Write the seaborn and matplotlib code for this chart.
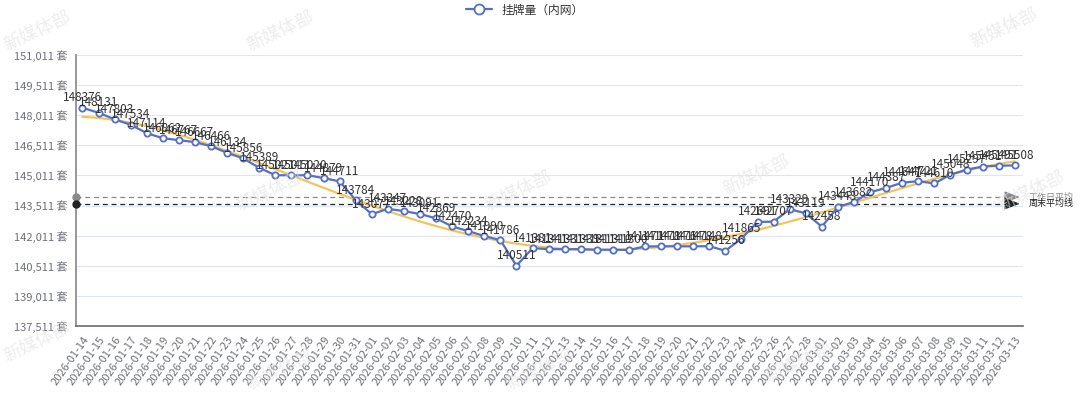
import matplotlib
matplotlib.use("Agg")
import matplotlib.pyplot as plt
import matplotlib.transforms as mtransforms
import numpy as np
import pandas as pd
import seaborn as sns

# dates (categories)
dates = pd.date_range("2026-01-14", "2026-03-13").strftime("%Y-%m-%d").tolist()

# listings count
listings = [
    148376, 148131, 147803, 147534, 147114, 146862, 146767, 146667, 146466, 146134,
    145856, 145389, 145021, 145011, 145020, 144879, 144711, 143784, 143077, 143347,
    143228, 143091, 142869, 142470, 142234, 141990, 141786, 140511, 141381, 141341,
    141331, 141339, 141311, 141310, 141300, 141471, 141478, 141476, 141478, 141482,
    141256, 141865, 142691, 142707, 143329, 143119, 142458, 143443, 143682, 144170,
    144387, 144647, 144721, 144610, 145048, 145297, 145451, 145491, 145508,
]

weekday_avg = 143930
weekend_avg = 143600
y_ticks = [137511, 139011, 140511, 142011, 143511, 145011, 146511, 148011, 149511, 151011]

df = pd.DataFrame({"date": dates, "listings": listings})
df["idx"] = np.arange(len(df))

sns.set_theme(style="white")
plt.rcParams["font.family"] = ["Noto Sans CJK SC", "DejaVu Sans"]
plt.rcParams["axes.unicode_minus"] = False

blue = "#5470c6"
yellow = "#f2c45f"

fig = plt.figure(figsize=(10.8, 3.98), dpi=100)
ax = fig.add_axes([0.0704, 0.181, 0.8766, 0.681])

# trend line
sns.regplot(data=df, x="idx", y="listings", order=4, scatter=False, ci=None,
            truncate=True, line_kws=dict(color=yellow, lw=1.6, zorder=2), ax=ax)

sns.lineplot(data=df, x="idx", y="listings", color=blue, lw=1.6, marker="o",
             markersize=4.5, markerfacecolor="white", markeredgecolor=blue,
             markeredgewidth=1.3, ax=ax, zorder=3, label="挂牌量（内网）", legend=False)

for i, v in enumerate(listings):
    ax.annotate(str(v), (i, v), xytext=(0, 2.5), textcoords="offset points",
                ha="center", va="bottom", fontsize=8.5, color="#333333", zorder=4)

# average lines
trans = mtransforms.blended_transform_factory(ax.transAxes, ax.transData)
for val, col, name in [(weekday_avg, "#8a8a8a", "工作日平均"), (weekend_avg, "#222222", "周末平均线")]:
    ax.plot([0, 0.992], [val, val], transform=trans, ls=(0, (4, 3)), lw=0.9,
            color=col, clip_on=False, zorder=1)
    ax.annotate("", xy=(1.0, val), xytext=(0.985, val), xycoords=trans, textcoords=trans,
                arrowprops=dict(arrowstyle="-|>,head_length=0.8,head_width=0.3",
                                color=col, lw=0.8), annotation_clip=False)
    ax.plot([0], [val], transform=trans, marker="o", markersize=5, color=col,
            clip_on=False, zorder=5)
    ax.text(1.006, val, name, transform=trans, fontsize=6.5, color=col, va="center", ha="left")

ax.set_xlim(-0.4, len(dates) - 0.5)
ax.set_ylim(y_ticks[0], y_ticks[-1])
ax.set_yticks(y_ticks)
ax.set_yticklabels([f"{t:,} 套" for t in y_ticks], fontsize=8, color="#6e7079")
ax.set_xticks(df["idx"])
ax.set_xticklabels(dates, rotation=55, ha="right", rotation_mode="anchor",
                   fontsize=8, color="#6e7079")
ax.set_xlabel("")
ax.set_ylabel("")
ax.grid(axis="y", color="#e0e6f1", lw=0.8)
ax.tick_params(axis="x", length=4, color="#6e7079", width=0.8, pad=2)
ax.tick_params(axis="y", length=0, pad=6)
for s in ["top", "right"]:
    ax.spines[s].set_visible(False)
ax.spines["left"].set_color("#8a8a8a")
ax.spines["bottom"].set_color("#6e7079")

handles, labels = ax.get_legend_handles_labels()
leg = fig.legend(handles, labels, loc="center", bbox_to_anchor=(0.486, 0.975), frameon=False,
                 fontsize=8.5, handlelength=2.2, markerscale=1.6, borderpad=0.1)
for t in leg.get_texts():
    t.set_color("#333333")

# watermarks
for x, y in [(0.035, 0.92), (0.26, 0.92), (0.93, 0.93), (0.48, 0.52), (0.035, 0.14),
             (0.25, 0.52), (0.70, 0.56), (0.74, 0.09), (0.5, 0.07), (0.26, 0.07), (0.955, 0.52)]:
    fig.text(x, y, "新媒体部", fontsize=13, color="#e2e2e2", alpha=0.6, rotation=25,
             ha="center", va="center", zorder=0)

fig.savefig("out.png", dpi=100)
